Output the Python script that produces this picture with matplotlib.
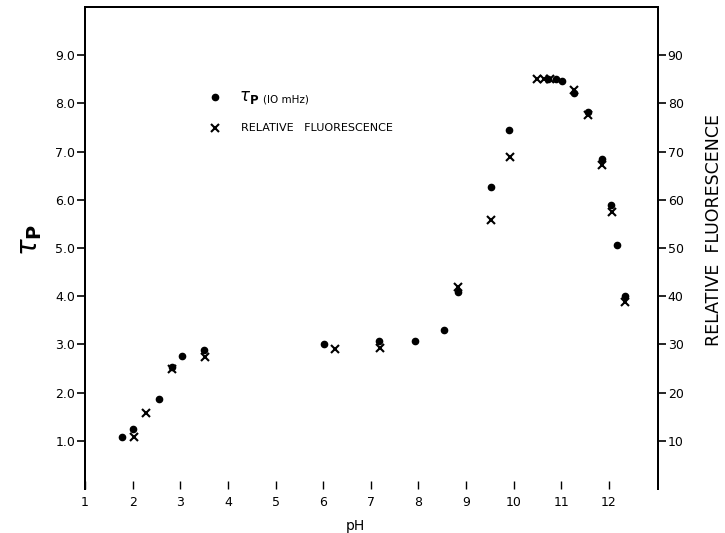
import matplotlib
matplotlib.use("Agg")
import matplotlib.pyplot as plt

# Phase lifetime (10 MHz) versus pH
tau_ph = [1.78, 2.00, 2.55, 2.83, 3.03, 3.50, 6.02, 7.18, 7.92, 8.53, 8.83,
          9.52, 9.90, 10.72, 10.88, 11.02, 11.27, 11.55, 11.85, 12.05, 12.17, 12.33]
tau_p = [1.08, 1.24, 1.87, 2.53, 2.76, 2.89, 3.00, 3.07, 3.08, 3.29, 4.08,
         6.27, 7.44, 8.50, 8.50, 8.47, 8.22, 7.82, 6.84, 5.90, 5.07, 4.00]

# Relative fluorescence versus pH
fl_ph = [2.02, 2.28, 2.83, 3.52, 6.24, 7.20, 8.84, 9.53, 9.93, 10.50, 10.63,
         10.77, 11.27, 11.57, 11.86, 12.07, 12.34]
fluor = [10.8, 15.8, 25.0, 27.3, 29.0, 29.2, 42.0, 55.8, 68.8, 85.0, 85.0,
         85.0, 82.8, 77.6, 67.2, 57.4, 38.8]

x_ticks = list(range(1, 13))
left_ticks = [1, 2, 3, 4, 5, 6, 7, 8, 9]
left_labels = ["1.0", "2.0", "3.0", "4.0", "5.0", "6.0", "7.0", "8.0", "9.0"]
right_ticks = [10, 20, 30, 40, 50, 60, 70, 80, 90]

fig = plt.figure(figsize=(7.25, 5.33), dpi=100)
ax = fig.add_axes([85 / 725, 1 - 489 / 533, (658 - 85) / 725, (489 - 7) / 533])
ax2 = ax.twinx()

ax.set_xlim(1.0, 13.03)
ax.set_ylim(0, 10)
ax2.set_ylim(0, 100)

ax.plot(tau_ph, tau_p, linestyle="none", marker="o", markersize=4.5,
        color="black", zorder=3)
ax2.plot(fl_ph, fluor, linestyle="none", marker="x", markersize=5.5,
         markeredgewidth=1.5, color="black", zorder=3)

lw = 1.4
for a in (ax, ax2):
    a.spines["bottom"].set_visible(False)
    for s in ("left", "right", "top"):
        a.spines[s].set_linewidth(lw)

ax.set_xticks(x_ticks)
ax.set_xticklabels([str(t) for t in x_ticks])
ax.tick_params(axis="x", direction="in", length=6, width=1.0, pad=5,
               labelsize=9)
ax.set_yticks(left_ticks)
ax.set_yticklabels(left_labels)
ax.tick_params(axis="y", direction="out", length=6, width=1.2, pad=1,
               labelsize=9)
ax2.set_yticks(right_ticks)
ax2.set_yticklabels([str(t) for t in right_ticks])
ax2.tick_params(axis="y", direction="out", length=6, width=1.2, pad=1,
                labelsize=9)

# Axis titles
fig.text(30 / 725, 1 - 240 / 533, r"$\tau_{\mathbf{P}}$", rotation=90,
         fontsize=20, ha="center", va="center")
fig.text(714 / 725, 1 - 230 / 533, "RELATIVE  FLUORESCENCE", rotation=90,
         fontsize=12.5, ha="center", va="center")
fig.text(355 / 725, 1 - 519 / 533, "pH", fontsize=10, ha="center", va="top")

# Key
tr = ax.transAxes
ax.plot([0.227], [0.813], marker="o", markersize=4.5, color="black",
        transform=tr, clip_on=False)
ax.text(0.268, 0.813, r"$\tau_{\mathbf{P}}$", fontsize=12, transform=tr,
        va="center", ha="left")
ax.text(0.310, 0.808, "(IO mHz)", fontsize=7.5, transform=tr,
        va="center", ha="left")
ax.plot([0.227], [0.749], marker="x", markersize=5.5, markeredgewidth=1.5,
        color="black", transform=tr, clip_on=False)
ax.text(0.272, 0.749, "RELATIVE   FLUORESCENCE", fontsize=8, transform=tr,
        va="center", ha="left")

fig.savefig("out.png", dpi=100)
